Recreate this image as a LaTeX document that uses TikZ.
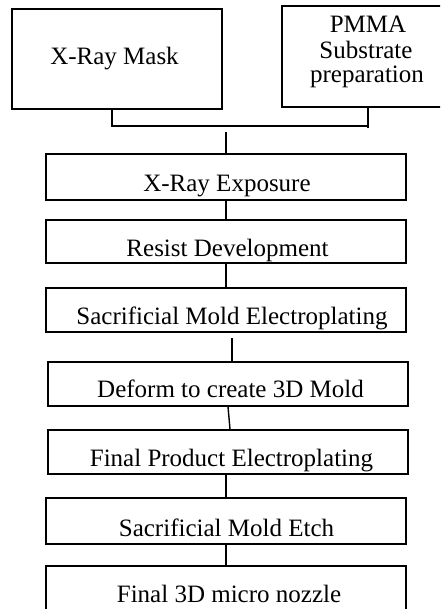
\documentclass[tikz,border=0pt]{standalone}
\usepackage{fontspec}
\setmainfont{Liberation Serif}
\begin{document}
\begin{tikzpicture}[x=1pt,y=-1pt,
  box/.style={draw, line width=1.4pt, inner sep=0pt},
  txt/.style={anchor=base, inner sep=0pt, font=\fontsize{25}{26}\selectfont, align=center},
  conn/.style={line width=1.4pt}]
\clip (0,0) rectangle (440,609);
\fill[white] (0,0) rectangle (440,609);
% boxes
\node[box, minimum width=210pt, minimum height=100pt] (mask) at (117,59) {};
\node[box, minimum width=170pt, minimum height=101pt] (pmma) at (367,56.5) {};
\node[box, minimum width=360pt, minimum height=46pt] (exp) at (226,177) {};
\node[box, minimum width=360pt, minimum height=43pt] (res) at (226,241.5) {};
\node[box, minimum width=360pt, minimum height=44pt] (sac) at (226,310) {};
\node[box, minimum width=360pt, minimum height=44pt] (def) at (228,384) {};
\node[box, minimum width=360pt, minimum height=44pt] (fin) at (228,452) {};
\node[box, minimum width=360pt, minimum height=46pt] (etch) at (226,521) {};
\node[box, minimum width=360pt, minimum height=54pt] (noz) at (226,593) {};
% texts
\node[txt] (tmask) at (114.5,65) {X-Ray Mask};
\node[txt] (tpmma1) at (368,33) {PMMA};
\node[txt] (tpmma2) at (366,59) {Substrate};
\node[txt] (tpmma3) at (367,83) {preparation};
\node[txt] (texp) at (227,192) {X-Ray Exposure};
\node[txt] (tres) at (227.5,256) {Resist Development};
\node[txt] (tsac) at (232,324) {Sacrificial Mold Electroplating};
\node[txt] (tdef) at (230.5,397) {Deform to create 3D Mold};
\node[txt] (tfin) at (231.5,466) {Final Product Electroplating};
\node[txt] (tetch) at (226.5,536) {Sacrificial Mold Etch};
\node[txt] (tnoz) at (229,602) {Final 3D micro nozzle};
% connectors
\coordinate (jl) at (112,126);
\coordinate (jr) at (368,126);
\coordinate (jre) at (368,128);
\coordinate (jt) at (226,132);
\draw[conn] (mask.south -| jl) -- (jl) -- (jr);
\draw[conn] (pmma.south -| jr) -- (jre);
\draw[conn] (jt) -- (exp.north -| jt);
\draw[conn] (exp.south) -- (res.north);
\draw[conn] (res.south) -- (sac.north);
\coordinate (sg) at (232,338);
\draw[conn] (sg) -- (def.north -| sg);
\draw[conn] (def.south) -- ([xshift=2pt]fin.north);
\draw[conn] (fin.south -| etch.north) -- (etch.north);
\draw[conn] (etch.south) -- (noz.north);
\end{tikzpicture}
\end{document}
